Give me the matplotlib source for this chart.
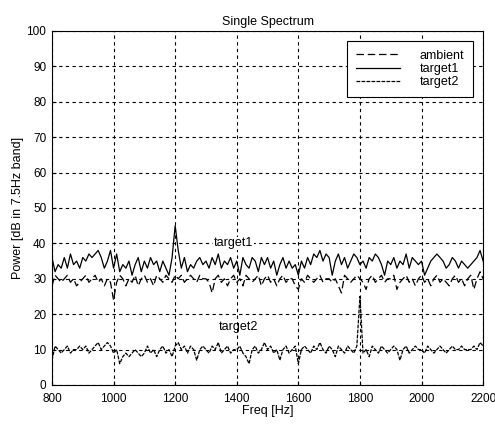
import numpy as np
import matplotlib
matplotlib.use("Agg")
import matplotlib.pyplot as plt

plt.rcParams['font.family'] = ['Liberation Sans', 'DejaVu Sans']

# frequency axis, 10 Hz steps
freq = np.arange(800, 2201, 10)

ambient = [
    28, 31, 30, 29, 30, 31, 29, 30, 28, 29,
    30, 31, 29, 30, 31, 29, 30, 28, 30, 29,
    24, 29, 31, 30, 28, 30, 29, 31, 28, 30,
    31, 29, 30, 28, 31, 30, 29, 31, 30, 29,
    31, 30, 31, 29, 30, 31, 30, 29, 31, 30,
    30, 29, 26, 30, 31, 29, 30, 28, 30, 31,
    29, 30, 28, 31, 30, 29, 30, 31, 28, 30,
    31, 29, 30, 28, 30, 31, 29, 30, 30, 28,
    27, 30, 29, 31, 30, 29, 30, 31, 29, 30,
    30, 29, 30, 28, 26, 31, 30, 29, 30, 31,
    30, 29, 27, 30, 31, 29, 30, 31, 29, 30,
    30, 31, 27, 29, 30, 31, 29, 30, 28, 30,
    31, 29, 30, 28, 30, 31, 29, 30, 29, 28,
    30, 31, 29, 30, 28, 30, 31, 27, 30, 32,
    30,
]

target1 = [
    36, 32, 34, 33, 36, 33, 37, 34, 35, 33,
    36, 35, 37, 36, 37, 38, 36, 33, 35, 38,
    33, 37, 32, 34, 33, 35, 31, 34, 36, 32,
    35, 33, 36, 34, 35, 32, 35, 33, 31, 36,
    45, 38, 33, 36, 32, 34, 33, 35, 36, 34,
    35, 33, 36, 34, 37, 33, 35, 34, 36, 33,
    35, 31, 36, 34, 33, 36, 35, 32, 36, 34,
    36, 33, 35, 31, 34, 36, 33, 35, 33, 34,
    31, 35, 33, 36, 34, 37, 36, 38, 35, 37,
    36, 31, 35, 37, 34, 36, 33, 35, 37, 36,
    34, 35, 33, 36, 35, 37, 36, 34, 31, 35,
    34, 36, 33, 35, 34, 37, 33, 36, 35, 34,
    35, 31, 33, 35, 36, 37, 36, 35, 33, 34,
    36, 35, 33, 35, 34, 33, 34, 35, 36, 38,
    35,
]

target2 = [
    7, 11, 10, 9, 10, 11, 9, 10, 10, 11,
    10, 11, 9, 10, 11, 12, 10, 11, 12, 11,
    9, 10, 6, 8, 9, 8, 9, 10, 9, 8,
    9, 11, 9, 10, 8, 10, 11, 9, 10, 8,
    11, 12, 10, 11, 9, 11, 10, 7, 10, 11,
    10, 9, 11, 10, 12, 9, 10, 11, 9, 10,
    10, 11, 9, 8, 6, 10, 11, 9, 10, 12,
    10, 11, 9, 10, 7, 10, 11, 9, 10, 11,
    6, 10, 11, 10, 9, 11, 10, 12, 10, 9,
    11, 10, 8, 11, 10, 9, 11, 10, 9, 11,
    25, 9, 10, 8, 11, 10, 9, 11, 10, 9,
    10, 11, 10, 7, 10, 11, 9, 10, 11, 10,
    10, 9, 11, 10, 9, 10, 11, 10, 9, 10,
    11, 10, 10, 11, 10, 10, 10, 11, 10, 12,
    11,
]

fig = plt.figure(figsize=(4.95, 4.24), dpi=100)
ax = fig.add_axes([0.105, 0.092, 0.871, 0.835])

ax.plot(freq, ambient, color='black', linewidth=0.9, linestyle=(0, (6, 3)), label='ambient')
ax.plot(freq, target1, color='black', linewidth=0.9, label='target1')
ax.plot(freq, target2, color='black', linewidth=0.9, linestyle=(0, (3, 1)), label='target2')

ax.text(1325, 40, 'target1', fontsize=9, va='center', ha='left',
        bbox=dict(facecolor='white', edgecolor='none', pad=0.5))
ax.text(1340, 16.5, 'target2', fontsize=9, va='center', ha='left')

ax.set_xlim(800, 2200)
ax.set_ylim(0, 100)
ax.set_xticks(np.arange(800, 2201, 200))
ax.set_yticks(np.arange(0, 101, 10))
ax.tick_params(direction='in', labelsize=8.5, length=3)
ax.tick_params(axis='y', pad=4)
ax.tick_params(axis='x', pad=6)
ax.grid(True, color='black', linestyle=(0, (3, 3)), linewidth=0.8)

ax.set_title('Single Spectrum', fontsize=9, pad=4)
ax.set_xlabel('Freq [Hz]', fontsize=9, labelpad=0)
ax.set_ylabel('Power [dB in 7.5Hz band]', fontsize=9, labelpad=2)

leg = ax.legend(loc='upper right', fontsize=9, fancybox=False, framealpha=1,
                edgecolor='black', handlelength=3.5, handletextpad=1.6,
                borderpad=0.7, borderaxespad=0.8, labelspacing=0.1)
leg.get_frame().set_linewidth(0.8)

fig.savefig('out.png', dpi=100)
